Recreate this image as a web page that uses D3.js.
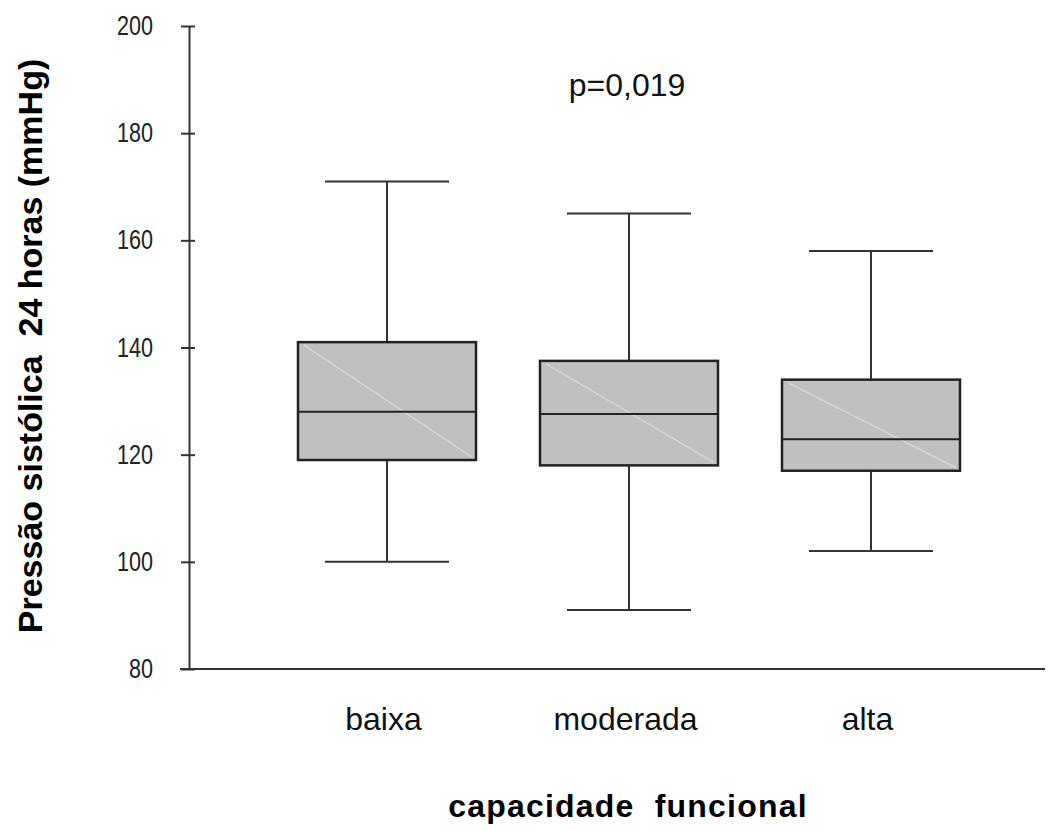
<!DOCTYPE html>
<html>
<head>
<meta charset="utf-8">
<script src="https://cdn.jsdelivr.net/npm/d3@7"></script>
<style>
  body { margin: 0; background: #fff; }
  svg { display: block; font-family: Arial, "Liberation Sans", sans-serif; }
</style>
</head>
<body>
<script>
let width = 1063, height = 830;

// data
let groups = ['baixa', 'moderada', 'alta'];
let whiskerMax = [171, 165, 158];
let q3 = [141, 137.5, 134];
let medians = [128, 127.6, 122.9];
let q1 = [119, 118, 117];
let whiskerMin = [100, 91, 102];
let yTicks = [80, 100, 120, 140, 160, 180, 200];
let pLabel = 'p=0,019';

let svg = d3.select('body').append('svg')
    .attr('width', width)
    .attr('height', height);

let x = d3.scalePoint().domain(groups).range([387, 871]);
let y = d3.scaleLinear().domain([80, 200]).range([669, 26]);
let boxHalf = 89, capHalf = 62, ink = '#333';
let squeeze = 0.8; // tick digits in the original are narrow

// y axis
let yAxis = svg.append('g')
    .attr('transform', 'translate(189,0)')
    .call(d3.axisLeft(y).tickValues(yTicks).tickSize(0));
yAxis.select('.domain').attr('stroke', ink).attr('stroke-width', 2);
yAxis.selectAll('text')
    .attr('font-size', 27).attr('fill', '#222')
    .attr('font-family', 'Arial, "Liberation Sans", sans-serif')
    .attr('x', -36 / squeeze)
    .attr('transform', `scale(${squeeze},1)`);
yAxis.selectAll('.tick').append('line')
    .attr('x1', -8).attr('x2', 6)
    .attr('stroke', ink).attr('stroke-width', 2);

// x axis
let xAxis = svg.append('g')
    .attr('transform', 'translate(0,669)')
    .call(d3.axisBottom(x).tickSize(0).tickPadding(38));
xAxis.select('.domain').remove();
xAxis.append('line').attr('x1', 180).attr('x2', 1045)
    .attr('stroke', ink).attr('stroke-width', 2);
xAxis.selectAll('text').attr('font-size', 32).attr('fill', '#111')
    .attr('dx', -4)
    .attr('font-family', 'Arial, "Liberation Sans", sans-serif');

// boxes
let data = groups.map((g, i) => ({
    g, max: whiskerMax[i], q3: q3[i], med: medians[i], q1: q1[i], min: whiskerMin[i]
}));

let box = svg.append('g').selectAll('g').data(data).join('g');

box.append('line') // whisker up
    .attr('x1', d => x(d.g)).attr('x2', d => x(d.g))
    .attr('y1', d => y(d.max)).attr('y2', d => y(d.q3))
    .attr('stroke', ink).attr('stroke-width', 2);
box.append('line') // whisker down
    .attr('x1', d => x(d.g)).attr('x2', d => x(d.g))
    .attr('y1', d => y(d.q1)).attr('y2', d => y(d.min))
    .attr('stroke', ink).attr('stroke-width', 2);
box.append('line')
    .attr('x1', d => x(d.g) - capHalf).attr('x2', d => x(d.g) + capHalf)
    .attr('y1', d => y(d.max)).attr('y2', d => y(d.max))
    .attr('stroke', ink).attr('stroke-width', 2);
box.append('line')
    .attr('x1', d => x(d.g) - capHalf).attr('x2', d => x(d.g) + capHalf)
    .attr('y1', d => y(d.min)).attr('y2', d => y(d.min))
    .attr('stroke', ink).attr('stroke-width', 2);
box.append('rect')
    .attr('x', d => x(d.g) - boxHalf)
    .attr('y', d => y(d.q3))
    .attr('width', boxHalf * 2)
    .attr('height', d => y(d.q1) - y(d.q3))
    .attr('fill', '#c0c0c0');
// faint scan streak across each box
box.append('line')
    .attr('x1', d => x(d.g) - boxHalf + 6).attr('x2', d => x(d.g) + boxHalf - 4)
    .attr('y1', d => y(d.q3) + 3).attr('y2', d => y(d.q1) - 3)
    .attr('stroke', '#d6d6d6').attr('stroke-width', 1.5);
box.append('rect')
    .attr('x', d => x(d.g) - boxHalf)
    .attr('y', d => y(d.q3))
    .attr('width', boxHalf * 2)
    .attr('height', d => y(d.q1) - y(d.q3))
    .attr('fill', 'none')
    .attr('stroke', '#222').attr('stroke-width', 2.5);
box.append('line')
    .attr('x1', d => x(d.g) - boxHalf).attr('x2', d => x(d.g) + boxHalf)
    .attr('y1', d => y(d.med)).attr('y2', d => y(d.med))
    .attr('stroke', '#222').attr('stroke-width', 2);

// annotations
svg.append('text')
    .attr('x', 627).attr('y', 96)
    .attr('text-anchor', 'middle')
    .attr('font-size', 32).attr('fill', '#111')
    .text(pLabel);

svg.append('text')
    .attr('x', 628).attr('y', 817)
    .attr('text-anchor', 'middle')
    .attr('font-size', 32).attr('font-weight', 'bold').attr('fill', '#000')
    .attr('letter-spacing', 1.2)
    .style('white-space', 'pre')
    .text('capacidade  funcional');

svg.append('text')
    .attr('transform', 'translate(42,346) rotate(-90)')
    .attr('text-anchor', 'middle')
    .attr('font-size', 34).attr('font-weight', 'bold').attr('fill', '#000')
    .style('white-space', 'pre')
    .text('Pressão sistólica  24 horas (mmHg)');
</script>
</body>
</html>
